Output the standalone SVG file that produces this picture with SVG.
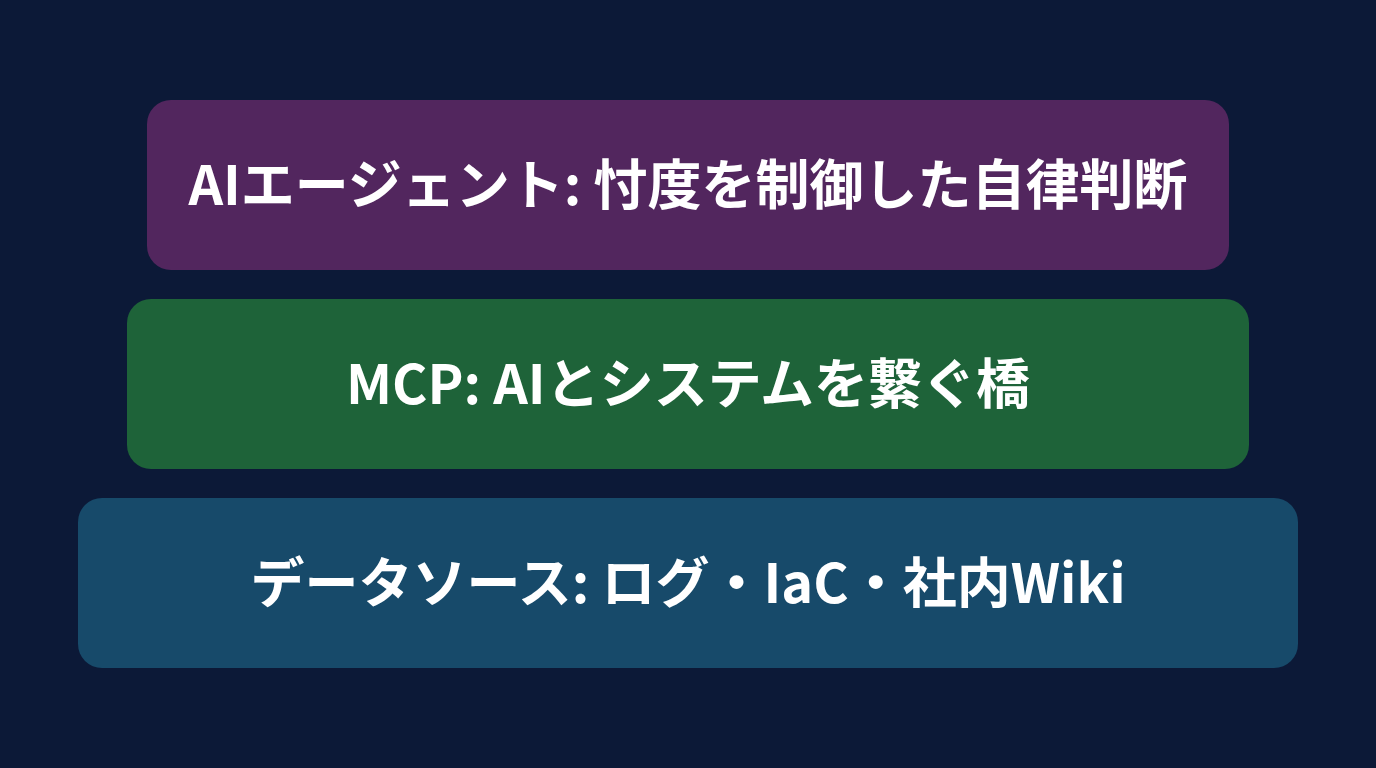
<svg xmlns="http://www.w3.org/2000/svg" width="1376" height="768" viewBox="0 0 1376 768">
<style>
.t{font-family:"Noto Sans CJK JP","Noto Sans",sans-serif;font-weight:700;font-size:54px;fill:#ffffff;text-anchor:middle}
</style>
<rect width="1376" height="768" fill="#0c1937"/>
<g id="agent"><rect x="147" y="100" width="1082" height="170" rx="24" fill="#52265e"/><text class="t" x="688" y="205">AIエージェント: 忖度を制御した自律判断</text></g>
<g id="mcp"><rect x="127" y="299" width="1122" height="170" rx="24" fill="#1e6339"/><text class="t" x="688" y="404">MCP: AIとシステムを繋ぐ橋</text></g>
<g id="data"><rect x="78" y="498" width="1220" height="170" rx="24" fill="#174a6a"/><text class="t" x="688" y="603">データソース: ログ・IaC・社内Wiki</text></g>
<g id="connectors"/>
</svg>
